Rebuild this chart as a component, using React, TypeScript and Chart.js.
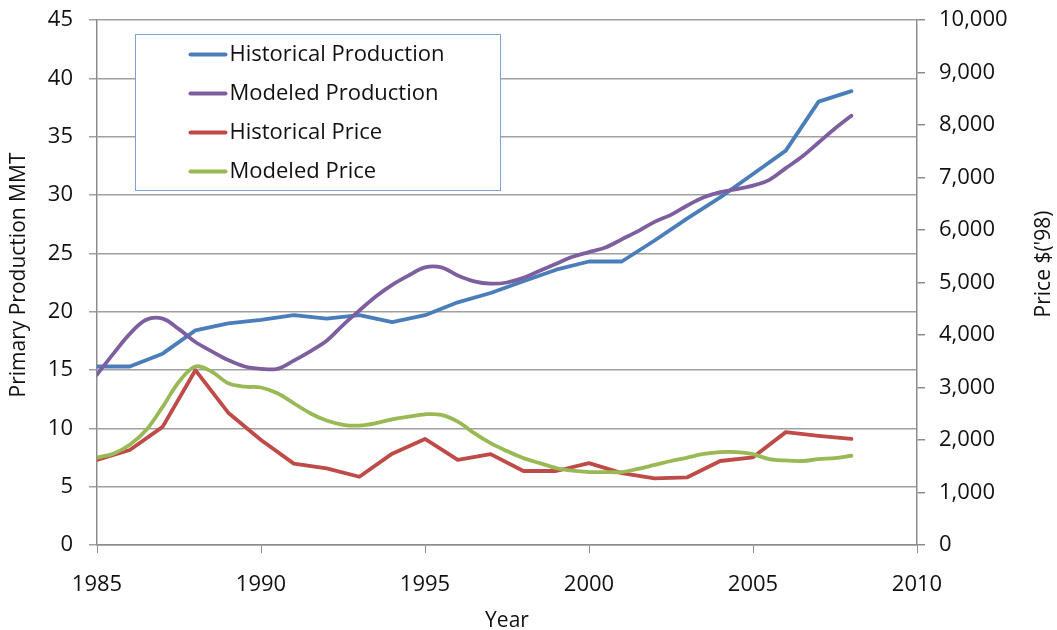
import React, { useEffect, useRef } from "react";
import { Chart, registerables } from "chart.js";

Chart.register(...registerables);

// ---------- DATA ----------
const historicalYears = [
  1985, 1986, 1987, 1988, 1989, 1990, 1991, 1992, 1993, 1994, 1995, 1996,
  1997, 1998, 1999, 2000, 2001, 2002, 2003, 2004, 2005, 2006, 2007, 2008,
];
const historicalProduction = [
  15.3, 15.3, 16.4, 18.4, 19.0, 19.3, 19.7, 19.4, 19.7, 19.1, 19.7, 20.8,
  21.6, 22.6, 23.6, 24.3, 24.3, 26.1, 28.0, 29.8, 31.8, 33.8, 38.0, 38.9,
];
const historicalPrice = [
  1620, 1810, 2250, 3330, 2520, 2000, 1550, 1460, 1300, 1740, 2020, 1620,
  1730, 1410, 1410, 1560, 1370, 1270, 1290, 1600, 1670, 2150, 2080, 2020,
];

const modeledYears = [
  1985, 1985.5, 1986, 1986.5, 1987, 1987.5, 1988, 1988.5, 1989, 1989.5,
  1990, 1990.5, 1991, 1991.5, 1992, 1992.5, 1993, 1993.5, 1994, 1994.5,
  1995, 1995.5, 1996, 1996.5, 1997, 1997.5, 1998, 1998.5, 1999, 1999.5,
  2000, 2000.5, 2001, 2001.5, 2002, 2002.5, 2003, 2003.5, 2004, 2004.5,
  2005, 2005.5, 2006, 2006.5, 2007, 2007.5, 2008,
];
const modeledProduction = [
  14.6, 16.4, 18.1, 19.3, 19.4, 18.5, 17.4, 16.6, 15.85, 15.3,
  15.1, 15.1, 15.8, 16.6, 17.5, 18.85, 20.1, 21.3, 22.3, 23.1,
  23.8, 23.8, 23.1, 22.6, 22.4, 22.5, 22.9, 23.5, 24.1, 24.7,
  25.1, 25.5, 26.2, 26.9, 27.7, 28.3, 29.1, 29.8, 30.25, 30.5,
  30.8, 31.3, 32.3, 33.3, 34.5, 35.7, 36.8,
];
const modeledPrice = [
  1665, 1740, 1910, 2190, 2630, 3110, 3400, 3300, 3080, 3015,
  3000, 2890, 2700, 2510, 2370, 2290, 2275, 2320, 2395, 2445,
  2490, 2480, 2350, 2130, 1940, 1790, 1655, 1560, 1465, 1415,
  1390, 1390, 1390, 1450, 1525, 1600, 1665, 1735, 1770, 1770,
  1730, 1635, 1610, 1600, 1635, 1655, 1700,
];

const seriesLabels = [
  "Historical Production",
  "Modeled Production",
  "Historical Price",
  "Modeled Price",
];
const seriesColors = ["#4A7EBB", "#7D5FA0", "#BE4B48", "#98B954"];

const yearTicks = { min: 1985, max: 2010, step: 5 };
const productionTicks = { min: 0, max: 45, step: 5 };
const priceTicks = { min: 0, max: 10000, step: 1000 };

const leftTitle = "Primary Production MMT";
const rightTitle = "Price $('98)";
const bottomTitle = "Year";

const FONT = "'Open Sans', 'Liberation Sans', sans-serif";
const TEXT_COLOR = "#111";
const AXIS_COLOR = "#8c8c8c";
const GRID_COLOR = "#a0a0a0";

const toPoints = (xs: number[], ys: number[]) =>
  xs.map((x, i) => ({ x, y: ys[i] }));

const zeroPad = (s: any) => {
  s.paddingTop = 0;
  s.paddingBottom = 0;
  s.paddingLeft = 0;
  s.paddingRight = 0;
};

const boxLegend = {
  id: "boxLegend",
  afterDatasetsDraw(chart: any) {
    const { ctx, chartArea } = chart;
    const x0 = Math.round(chartArea.left + 38) + 0.5;
    const y0 = Math.round(chartArea.top + 14) + 0.5;
    const w = 365;
    const h = 156;
    ctx.save();
    ctx.fillStyle = "#ffffff";
    ctx.fillRect(x0, y0, w, h);
    ctx.strokeStyle = "#7FA2D2";
    ctx.lineWidth = 1;
    ctx.strokeRect(x0, y0, w, h);
    ctx.font = `22px ${FONT}`;
    ctx.textBaseline = "middle";
    ctx.textAlign = "left";
    chart.data.datasets.forEach((ds: any, i: number) => {
      const cy = y0 + 20 + i * 39;
      ctx.strokeStyle = ds.borderColor;
      ctx.lineWidth = 4;
      ctx.lineCap = "round";
      ctx.beginPath();
      ctx.moveTo(x0 + 55, cy);
      ctx.lineTo(x0 + 90, cy);
      ctx.stroke();
      ctx.fillStyle = TEXT_COLOR;
      ctx.fillText(ds.label, x0 + 94, cy);
    });
    ctx.restore();
  },
};

const axisTitles = {
  id: "axisTitles",
  afterDraw(chart: any) {
    const { ctx, chartArea } = chart;
    ctx.save();
    ctx.fillStyle = TEXT_COLOR;
    ctx.font = `21px ${FONT}`;
    ctx.textAlign = "center";
    ctx.textBaseline = "middle";
    // left title
    ctx.save();
    ctx.translate(chartArea.left - 78, chartArea.top + 255);
    ctx.rotate(-Math.PI / 2);
    ctx.fillText(leftTitle, 0, 0);
    ctx.restore();
    // right title
    ctx.save();
    ctx.translate(chartArea.right + 127, chartArea.top + 244);
    ctx.rotate(-Math.PI / 2);
    ctx.fillText(rightTitle, 0, 0);
    ctx.restore();
    // bottom title
    ctx.fillText(bottomTitle, (chartArea.left + chartArea.right) / 2, chartArea.bottom + 76);
    ctx.restore();
  },
};

export default function App() {
  const canvasRef = useRef<HTMLCanvasElement | null>(null);

  useEffect(() => {
    if (!canvasRef.current) return;
    const chart = new Chart(canvasRef.current, {
      type: "line",
      data: {
        datasets: [
          {
            label: seriesLabels[0],
            data: toPoints(historicalYears, historicalProduction),
            borderColor: seriesColors[0],
            yAxisID: "y",
            tension: 0,
            order: 4,
          },
          {
            label: seriesLabels[1],
            data: toPoints(modeledYears, modeledProduction),
            borderColor: seriesColors[1],
            yAxisID: "y",
            tension: 0.35,
            order: 3,
          },
          {
            label: seriesLabels[2],
            data: toPoints(historicalYears, historicalPrice),
            borderColor: seriesColors[2],
            yAxisID: "y1",
            tension: 0,
            order: 2,
          },
          {
            label: seriesLabels[3],
            data: toPoints(modeledYears, modeledPrice),
            borderColor: seriesColors[3],
            yAxisID: "y1",
            tension: 0.35,
            order: 1,
          },
        ],
      },
      options: {
        responsive: false,
        animation: false,
        devicePixelRatio: 1,
        layout: { padding: { top: 20, left: 0, right: 0, bottom: 0 } },
        elements: {
          point: { radius: 0, hoverRadius: 0 },
          line: { borderWidth: 3.8, borderCapStyle: "round", borderJoinStyle: "round", fill: false },
        },
        plugins: {
          legend: { display: false },
          tooltip: { enabled: false },
          title: { display: false },
        },
        scales: {
          x: {
            type: "linear",
            min: yearTicks.min,
            max: yearTicks.max,
            afterFit: (s: any) => {
              s.height = 85;
              zeroPad(s);
            },
            ticks: {
              stepSize: yearTicks.step,
              callback: (v: any) => String(v),
              color: TEXT_COLOR,
              font: { family: FONT, size: 22 },
              padding: 19,
              maxRotation: 0,
            },
            grid: {
              drawOnChartArea: false,
              drawTicks: true,
              tickLength: 8,
              color: AXIS_COLOR,
            },
            border: { color: AXIS_COLOR, width: 1.5 },
          },
          y: {
            type: "linear",
            position: "left",
            min: productionTicks.min,
            max: productionTicks.max,
            afterFit: (s: any) => {
              s.width = 97;
              zeroPad(s);
            },
            ticks: {
              stepSize: productionTicks.step,
              color: TEXT_COLOR,
              font: { family: FONT, size: 22 },
              padding: 16,
            },
            grid: {
              color: GRID_COLOR,
              lineWidth: 1.5,
              tickLength: 8,
            },
            border: { color: AXIS_COLOR, width: 1.5 },
          },
          y1: {
            type: "linear",
            position: "right",
            min: priceTicks.min,
            max: priceTicks.max,
            afterFit: (s: any) => {
              s.width = 140;
              zeroPad(s);
            },
            ticks: {
              stepSize: priceTicks.step,
              color: TEXT_COLOR,
              font: { family: FONT, size: 22 },
              padding: 14,
              callback: (v: any) => Number(v).toLocaleString("en-US"),
            },
            grid: {
              drawOnChartArea: false,
              tickLength: 8,
              color: AXIS_COLOR,
              lineWidth: 1.5,
            },
            border: { color: AXIS_COLOR, width: 1.5 },
          },
        },
      },
      plugins: [boxLegend, axisTitles],
    });
    return () => chart.destroy();
  }, []);

  return (
    <div style={{ position: "absolute", left: 0, top: 0, width: 1057, height: 630, background: "#fff" }}>
      <canvas ref={canvasRef} width={1057} height={630} style={{ display: "block" }} />
    </div>
  );
}
